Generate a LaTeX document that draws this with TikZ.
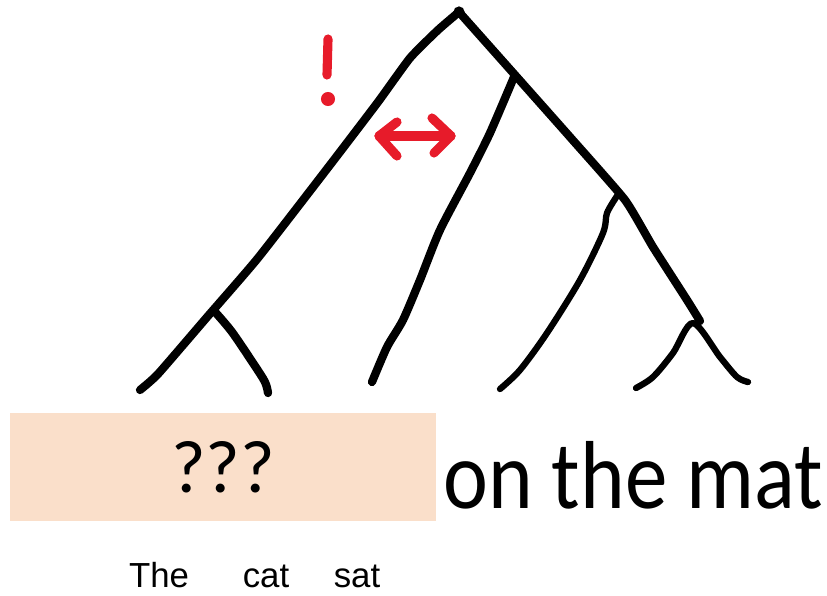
\documentclass[tikz,border=0pt]{standalone}
\usepackage{fontspec}
\usepackage{tikz}
\usetikzlibrary{positioning}
\newfontfamily\calfont{Carlito}
\newfontfamily\arifont{Liberation Sans}
\definecolor{inkred}{RGB}{231,27,42}
\definecolor{peach}{RGB}{250,223,202}

\begin{document}
\begin{tikzpicture}[
    x=0.02cm,y=-0.02cm,
    pen/.style={draw=black,line width=4.7pt,line cap=round,line join=round},
    thinpen/.style={pen,line width=3.6pt},
    redpen/.style={draw=inkred,line width=5.2pt,line cap=round,line join=round},
    word/.style={font=\arifont\fontsize{19.8}{22}\selectfont,anchor=base,inner sep=0pt}
  ]
  \useasboundingbox (0,0) rectangle (827,595);
  \coordinate (root) at (459,12);
  \coordinate (jL) at (216,313);
  \coordinate (jR) at (514,77);
  \coordinate (jRR) at (617,196);
  \coordinate (jS) at (693,323);
  \coordinate (tEnd) at (700,321);
  \coordinate (lThe) at (140,390);
  \coordinate (lCat) at (268,393);
  \coordinate (lSat) at (372,382);
  \coordinate (lOn) at (500,389);
  \coordinate (lThe2) at (636,388);
  \coordinate (lMat) at (748,382);

  \fill[peach] (10,413) rectangle (436,521);
  \node[font=\calfont\fontsize{42.5}{50}\selectfont,inner sep=0pt] (qm) at (223,467) {???};
  \node[font=\calfont\fontsize{55}{60}\selectfont,anchor=base west,inner sep=0pt,xscale=0.88] (rest) at (443,508) {on the mat};
  \node[word] (w1) at (159,587) {The};
  \node[word] (w2) at (266,587) {cat};
  \node[word] (w3) at (357,587) {sat};

  \draw[pen] plot[smooth,tension=0.3] coordinates {(root) (438,30) (410,58) (378,102) (330,165) (258,258) (208,316) (158,374) (lThe)};
  \draw[pen] plot[smooth,tension=0.5] coordinates {(jL) (232,332) (253,363) (265,382) (lCat)};
  \draw[pen] plot[smooth,tension=0.3] coordinates {(root) (515,75) (570,137) (625,200) (653,247) (687,300) (tEnd)};
  \draw[pen] plot[smooth,tension=0.4] coordinates {(jR) (490,133) (470,173) (440,230) (420,280) (403,320) (387,347) (lSat)};
  \draw[thinpen] plot[smooth,tension=0.5] coordinates {(jRR) (607,213) (603,233) (580,280) (547,333) (520,370) (lOn)};
  \draw[thinpen] plot[smooth,tension=0.5] coordinates {(lThe2) (653,377) (673,353) (jS) (720,357) (737,377) (lMat)};
  \fill (root) circle (3.2pt);

  \coordinate (exTop) at (328,39);
  \coordinate (exBot) at (327,75);
  \coordinate (exDot) at (328,99);
  \draw[redpen] (exTop) -- (exBot);
  \fill[inkred] (exDot) circle (4pt);

  \coordinate (arL) at (379,136);
  \coordinate (arR) at (451,136);
  \draw[redpen] (arL) -- (arR);
  \draw[redpen] (397,122) -- (arL) -- (397,156);
  \draw[redpen] (432,118) -- (arR) -- (434,153);
\end{tikzpicture}
\end{document}
